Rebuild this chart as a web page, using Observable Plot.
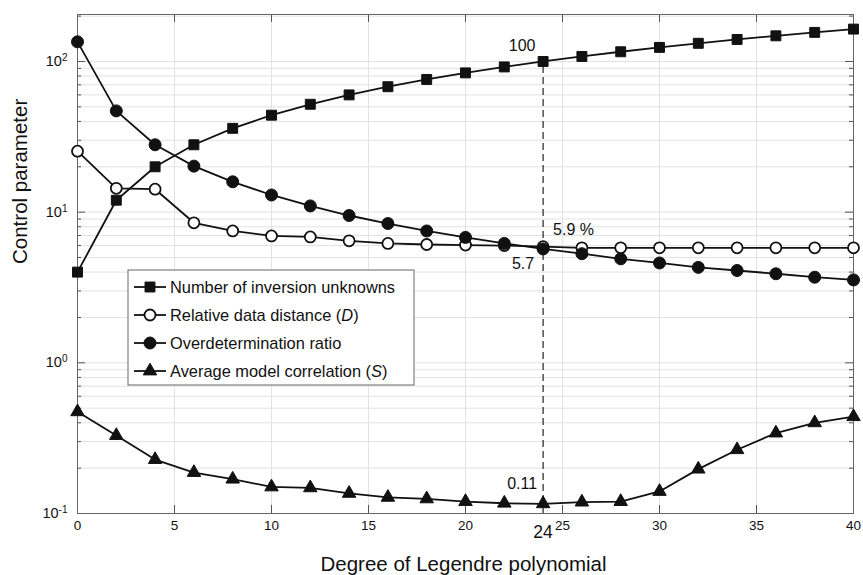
<!DOCTYPE html>
<html>
<head>
<meta charset="utf-8">
<script src="https://cdn.jsdelivr.net/npm/d3@7"></script>
<script src="https://cdn.jsdelivr.net/npm/@observablehq/plot@0.6"></script>
<style>
  body { margin: 0; background: white; }
  #chart { position: relative; width: 863px; height: 575px; }
</style>
</head>
<body>
<div id="chart"></div>
<script>
const degree = [0, 2, 4, 6, 8, 10, 12, 14, 16, 18, 20, 22, 24, 26, 28, 30, 32, 34, 36, 38, 40];
const unknowns = [4, 12, 20, 28, 36, 44, 52, 60, 68, 76, 84, 92, 100, 108, 116, 124, 132, 140, 148, 156, 164];
const distance = [25.4, 14.4, 14.2, 8.5, 7.5, 6.95, 6.85, 6.45, 6.2, 6.1, 6.05, 6.0, 5.9, 5.8, 5.8, 5.8, 5.8, 5.8, 5.8, 5.8, 5.8];
const overdet = [135, 47, 28, 20.2, 15.9, 13, 11, 9.5, 8.4, 7.5, 6.8, 6.2, 5.7, 5.3, 4.9, 4.6, 4.3, 4.1, 3.9, 3.7, 3.55];
const correlation = [0.473, 0.329, 0.228, 0.187, 0.169, 0.150, 0.148, 0.136, 0.128, 0.125, 0.120, 0.117, 0.116, 0.119, 0.120, 0.140, 0.197, 0.265, 0.342, 0.400, 0.439];
const seriesNames = ["Number of inversion unknowns", "Relative data distance (D)", "Overdetermination ratio", "Average model correlation (S)"];
const xTicks = [0, 5, 10, 15, 20, 25, 30, 35, 40];
const yMajor = [0.1, 1, 10, 100];
const yMinor = [0.2,0.3,0.4,0.5,0.6,0.7,0.8,0.9,2,3,4,5,6,7,8,9,20,30,40,50,60,70,80,90,200];
const chosenDegree = 24;
const annotations = [
  {x: 24, y: 100, label: "100"},
  {x: 24, y: 5.9, label: "5.9 %"},
  {x: 24, y: 5.7, label: "5.7"},
  {x: 24, y: 0.116, label: "0.11"}
];

const rows = (vals) => degree.map((d, i) => ({x: d, y: vals[i]}));
const sq = rows(unknowns), od = rows(distance), fc = rows(overdet), tr = rows(correlation);

const W = 863, H = 575, mL = 77, mR = 10, mT = 14, mB = 62;
const fw = W - mL - mR, fh = H - mT - mB;
const ink = "#111";
const gridC = "#e2e2e2";
const tickC = "#555";
const FONT = "'Liberation Sans', Arial, sans-serif";

const annot = (a, dx, dy, anchor) =>
  Plot.text([a], {x: "x", y: "y", text: "label", dx, dy, textAnchor: anchor, fontSize: 16, fill: ink});

const plot = Plot.plot({
  width: W, height: H,
  marginLeft: mL, marginRight: mR, marginTop: mT, marginBottom: mB,
  style: {fontFamily: FONT, fontSize: "13px", background: "white", color: ink},
  x: {domain: [0, 40]},
  y: {type: "log", domain: [0.1, 205]},
  marks: [
    Plot.ruleX(xTicks, {stroke: gridC, strokeWidth: 1}),
    Plot.ruleY(yMinor, {stroke: gridC, strokeWidth: 1}),
    Plot.ruleY(yMajor, {stroke: gridC, strokeWidth: 1}),
    // inner tick marks
    Plot.ruleY(yMajor, {stroke: tickC, insetRight: fw - 8}),
    Plot.ruleY(yMajor, {stroke: tickC, insetLeft: fw - 8}),
    Plot.ruleY(yMinor, {stroke: tickC, insetRight: fw - 4}),
    Plot.ruleY(yMinor, {stroke: tickC, insetLeft: fw - 4}),
    Plot.ruleX(xTicks, {stroke: tickC, insetTop: fh - 8}),
    Plot.ruleX(xTicks, {stroke: tickC, insetBottom: fh - 8}),
    Plot.frame({stroke: "#666", strokeWidth: 1}),
    Plot.axisX({ticks: xTicks, tickSize: 0, tickPadding: 7, label: null, fontSize: 13.5}),
    Plot.axisY({ticks: yMajor, tickSize: 0, tickPadding: 10, label: null, fontSize: 14.5,
      tickFormat: d => "10^" + Math.round(Math.log10(d))}),
    Plot.text(["Degree of Legendre polynomial"], {frameAnchor: "bottom", dy: 57, dx: -2, fontSize: 20.5, fill: ink}),
    Plot.text(["Control parameter"], {frameAnchor: "left", dx: -57, dy: 0, rotate: -90, fontSize: 20.5, fill: ink}),
    // chosen degree marker
    Plot.ruleX([chosenDegree], {y1: 0.1, y2: 100, stroke: "#222", strokeWidth: 1.2, strokeDasharray: "7,4"}),
    Plot.text([chosenDegree], {x: d => d, y: () => 0.1, dy: 19, text: d => String(d), fontSize: 17.5, fill: ink}),
    // series
    Plot.line(sq, {x: "x", y: "y", stroke: ink, strokeWidth: 1.8}),
    Plot.line(od, {x: "x", y: "y", stroke: ink, strokeWidth: 1.8}),
    Plot.line(fc, {x: "x", y: "y", stroke: ink, strokeWidth: 1.8}),
    Plot.line(tr, {x: "x", y: "y", stroke: ink, strokeWidth: 1.8}),
    Plot.dot(sq, {x: "x", y: "y", symbol: "square", r: 5.6, fill: ink, stroke: ink, strokeWidth: 1}),
    Plot.dot(od, {x: "x", y: "y", symbol: "circle", r: 5.5, fill: "white", stroke: ink, strokeWidth: 1.8}),
    Plot.dot(fc, {x: "x", y: "y", symbol: "circle", r: 6, fill: ink, stroke: ink, strokeWidth: 1}),
    Plot.dot(tr, {x: "x", y: "y", symbol: "triangle", r: 5, fill: ink, stroke: ink, strokeWidth: 1}),
    annot(annotations[0], -21, -16, "middle"),
    annot(annotations[1], 10, -17, "start"),
    annot(annotations[2], -20, 15, "middle"),
    annot(annotations[3], -21, -20, "middle")
  ]
});

// Superscript exponents on y tick labels
d3.select(plot).selectAll('g[aria-label="y-axis tick label"] text').each(function() {
  const t = d3.select(this);
  const s = t.text();
  const exp = s.split("^")[1];
  t.text("");
  t.append("tspan").text("10");
  t.append("tspan").attr("dy", "-0.5em").attr("font-size", "10px").text(exp);
});

// Legend inside the frame
const svg = d3.select(plot);
const lg = svg.append("g").attr("font-family", FONT).attr("font-size", "16.4px").attr("text-anchor", "start");
const lx = 128, ly = 270, lw = 286, lh = 115;
lg.append("rect").attr("x", lx).attr("y", ly).attr("width", lw).attr("height", lh)
  .attr("fill", "white").attr("stroke", "#666").attr("stroke-width", 1);
const symbols = [
  {sym: d3.symbolSquare, r: 5.6, fill: ink},
  {sym: d3.symbolCircle, r: 5.5, fill: "white"},
  {sym: d3.symbolCircle, r: 6, fill: ink},
  {sym: d3.symbolTriangle, r: 5, fill: ink}
];
const rowY = [287, 315, 343, 371];
seriesNames.forEach((name, i) => {
  const y = rowY[i];
  lg.append("line").attr("x1", 134).attr("x2", 166).attr("y1", y).attr("y2", y).attr("stroke", ink).attr("stroke-width", 1.8);
  lg.append("path").attr("d", d3.symbol(symbols[i].sym, symbols[i].r * symbols[i].r * Math.PI)())
    .attr("transform", `translate(150,${y})`).attr("fill", symbols[i].fill).attr("stroke", ink)
    .attr("stroke-width", i === 1 ? 1.8 : 1);
  const t = lg.append("text").attr("x", 170).attr("y", y).attr("dy", "0.35em").attr("fill", ink);
  const m = name.match(/^(.*\()([A-Z])(\))$/);
  if (m) {
    t.append("tspan").text(m[1]);
    t.append("tspan").attr("font-style", "italic").text(m[2]);
    t.append("tspan").text(m[3]);
  } else {
    t.text(name);
  }
});

document.getElementById("chart").appendChild(plot);
</script>
</body>
</html>
